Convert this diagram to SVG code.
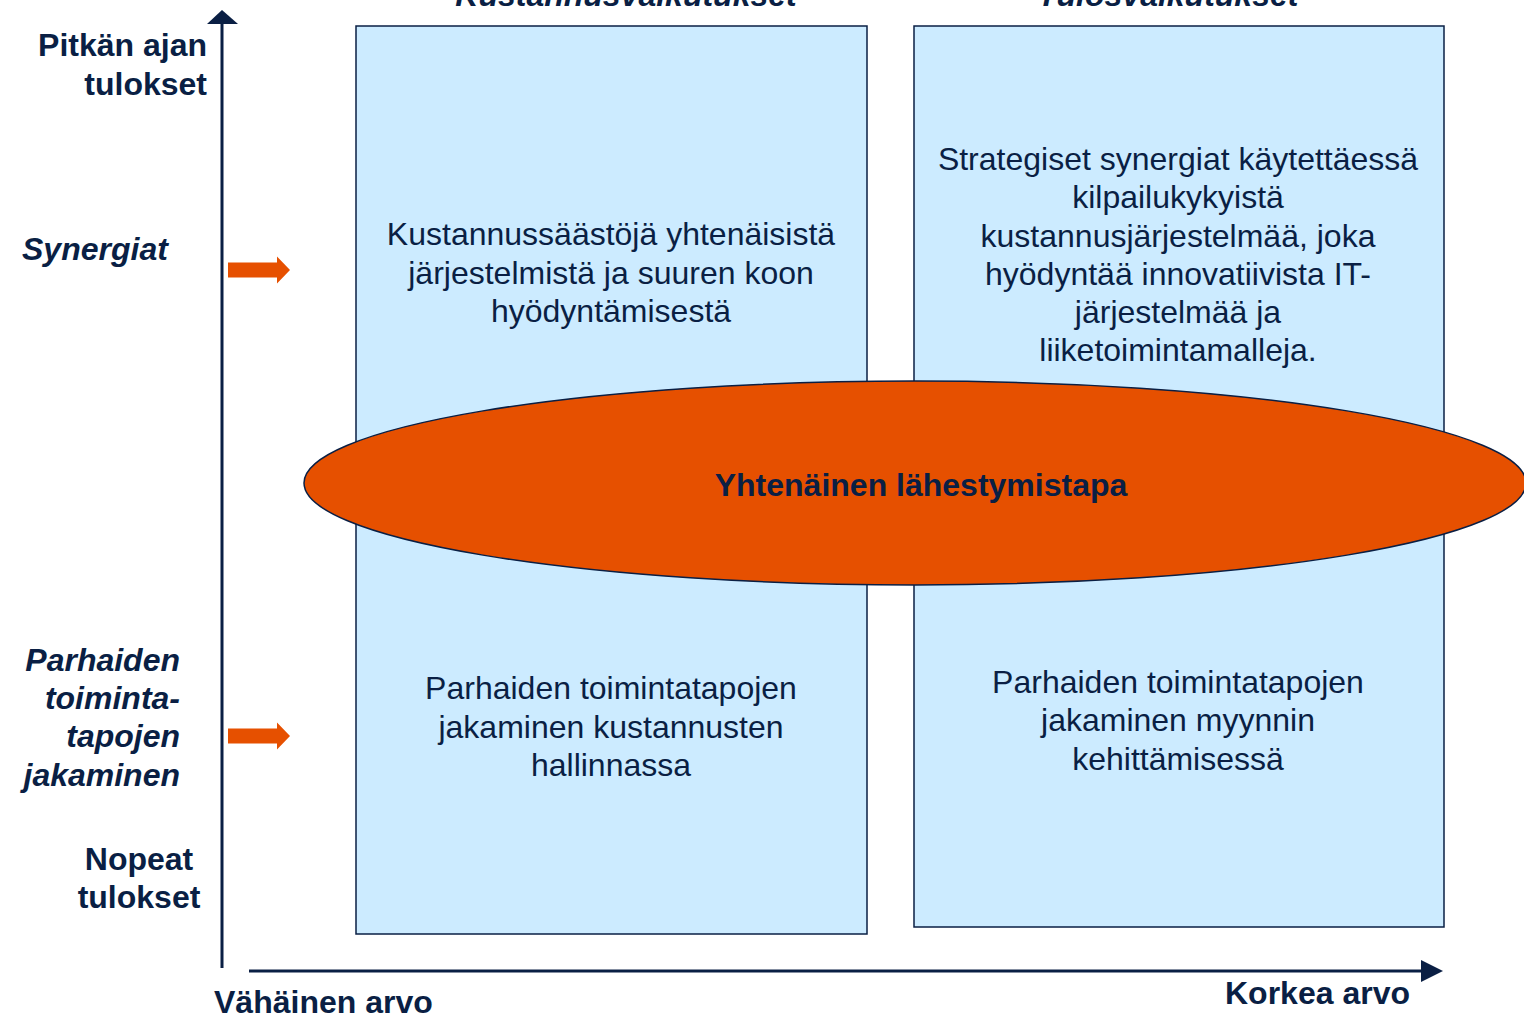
<svg xmlns="http://www.w3.org/2000/svg" width="1524" height="1018" viewBox="0 0 1524 1018">
<style>
text{font-family:"Liberation Sans",Arial,sans-serif;fill:#0A1F44;}
.b{font-weight:bold;font-size:32px;}
.bi{font-weight:bold;font-style:italic;font-size:32px;}
.t{font-size:32px;text-anchor:middle;}
.box{fill:#CCEBFF;stroke:#0A1F44;stroke-width:1.5;}
.ax{stroke:#0A1F44;stroke-width:3;fill:none;}
.oa{fill:#E65000;}
</style>
<defs>
<path id="oarrow" d="M0,-7.5 H49 V-13.5 L62,0 L49,13.5 V7.5 H0 Z"/>
</defs>
<g id="axes">
<line class="ax" x1="222" y1="22" x2="222" y2="968"/>
<polygon points="222,10 207,24 238,24" fill="#0A1F44"/>
<line class="ax" x1="249" y1="971" x2="1424" y2="971"/>
<polygon points="1443,971 1421,960 1421,982" fill="#0A1F44"/>
</g>
<text class="bi" x="626" y="6" text-anchor="middle">Kustannusvaikutukset</text>
<text class="bi" x="1168" y="6" text-anchor="middle">Tulosvaikutukset</text>
<g id="box-left-top">
<rect class="box" x="356" y="26" width="511" height="908"/>
</g>
<g id="box-right">
<rect class="box" x="914" y="26" width="530" height="901"/>
</g>
<g id="text-left-top">
<text class="t" x="611" y="245">Kustannussäästöjä yhtenäisistä</text>
<text class="t" x="611" y="284">järjestelmistä ja suuren koon</text>
<text class="t" x="611" y="322">hyödyntämisestä</text>
</g>
<g id="text-right-top">
<text class="t" x="1178" y="170">Strategiset synergiat käytettäessä</text>
<text class="t" x="1178" y="208">kilpailukykyistä</text>
<text class="t" x="1178" y="247">kustannusjärjestelmää, joka</text>
<text class="t" x="1178" y="285">hyödyntää innovatiivista IT-</text>
<text class="t" x="1178" y="323">järjestelmää ja</text>
<text class="t" x="1178" y="361">liiketoimintamalleja.</text>
</g>
<g id="text-left-bottom">
<text class="t" x="611" y="699">Parhaiden toimintatapojen</text>
<text class="t" x="611" y="738">jakaminen kustannusten</text>
<text class="t" x="611" y="776">hallinnassa</text>
</g>
<g id="text-right-bottom">
<text class="t" x="1178" y="693">Parhaiden toimintatapojen</text>
<text class="t" x="1178" y="731">jakaminen myynnin</text>
<text class="t" x="1178" y="770">kehittämisessä</text>
</g>
<g id="ellipse">
<ellipse cx="915" cy="483" rx="611" ry="102" fill="#E65000" stroke="#0A1F44" stroke-width="1.5"/>
<text class="b" x="921" y="496" text-anchor="middle">Yhtenäinen lähestymistapa</text>
</g>
<g id="arrow-synergiat">
<use href="#oarrow" x="228" y="270" class="oa"/>
</g>
<g id="arrow-parhaiden">
<use href="#oarrow" x="228" y="736" class="oa"/>
</g>
<g id="labels-y">
<text class="b" x="207" y="56" text-anchor="end">Pitkän ajan</text>
<text class="b" x="207" y="95" text-anchor="end">tulokset</text>
<text class="bi" x="22" y="260">Synergiat</text>
<text class="bi" x="180" y="671" text-anchor="end">Parhaiden</text>
<text class="bi" x="180" y="709" text-anchor="end">toiminta-</text>
<text class="bi" x="180" y="747" text-anchor="end">tapojen</text>
<text class="bi" x="180" y="786" text-anchor="end">jakaminen</text>
<text class="b" x="139" y="870" text-anchor="middle">Nopeat</text>
<text class="b" x="139" y="908" text-anchor="middle">tulokset</text>
</g>
<g id="labels-x">
<text class="b" x="214" y="1013">Vähäinen arvo</text>
<text class="b" x="1225" y="1004">Korkea arvo</text>
</g>
</svg>
